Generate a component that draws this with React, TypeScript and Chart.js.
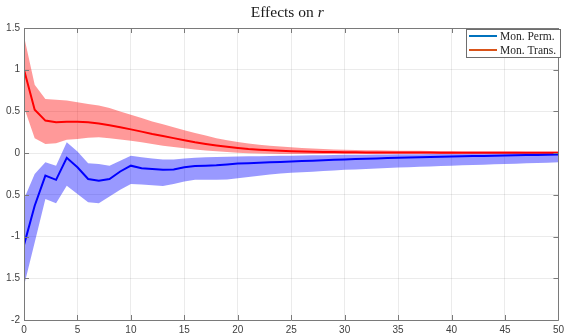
import React, { useEffect, useRef } from "react";
import { Chart, registerables } from "chart.js";

Chart.register(...registerables);

const horizons: number[] = Array.from({ length: 51 }, (_, i) => i);

const transMean = [1.0, 0.52, 0.39, 0.37, 0.375, 0.375, 0.37, 0.355, 0.335, 0.31, 0.285, 0.258, 0.23, 0.205, 0.18, 0.155, 0.13, 0.11, 0.092, 0.076, 0.062, 0.05, 0.041, 0.034, 0.028, 0.024, 0.02, 0.017, 0.015, 0.013, 0.011, 0.01, 0.009, 0.009, 0.008, 0.008, 0.007, 0.007, 0.007, 0.006, 0.006, 0.006, 0.006, 0.005, 0.005, 0.005, 0.005, 0.005, 0.005, 0.005, 0.005];
const transUpper = [1.4, 0.82, 0.65, 0.64, 0.63, 0.61, 0.59, 0.57, 0.54, 0.5, 0.46, 0.42, 0.38, 0.345, 0.31, 0.275, 0.24, 0.21, 0.18, 0.155, 0.135, 0.115, 0.1, 0.09, 0.08, 0.07, 0.062, 0.055, 0.05, 0.045, 0.042, 0.039, 0.036, 0.034, 0.032, 0.03, 0.029, 0.028, 0.027, 0.026, 0.025, 0.024, 0.024, 0.023, 0.023, 0.022, 0.022, 0.021, 0.021, 0.02, 0.02];
const transLower = [0.55, 0.18, 0.11, 0.12, 0.16, 0.17, 0.185, 0.19, 0.18, 0.165, 0.15, 0.13, 0.11, 0.09, 0.075, 0.06, 0.045, 0.033, 0.022, 0.013, 0.005, 0.0, -0.004, -0.007, -0.009, -0.01, -0.01, -0.01, -0.01, -0.01, -0.01, -0.01, -0.01, -0.01, -0.009, -0.009, -0.009, -0.009, -0.009, -0.009, -0.009, -0.008, -0.008, -0.008, -0.008, -0.008, -0.008, -0.008, -0.008, -0.008, -0.008];

const permMean = [-1.1, -0.63, -0.27, -0.32, -0.056, -0.17, -0.31, -0.33, -0.31, -0.22, -0.15, -0.18, -0.19, -0.2, -0.195, -0.17, -0.155, -0.15, -0.145, -0.135, -0.125, -0.12, -0.115, -0.11, -0.105, -0.1, -0.095, -0.09, -0.085, -0.08, -0.075, -0.071, -0.067, -0.063, -0.059, -0.055, -0.052, -0.049, -0.046, -0.043, -0.04, -0.038, -0.035, -0.033, -0.03, -0.028, -0.026, -0.023, -0.021, -0.018, -0.016];
const permUpper = [-0.55, -0.25, -0.11, -0.15, 0.13, 0.02, -0.12, -0.13, -0.15, -0.09, -0.03, -0.05, -0.065, -0.075, -0.075, -0.065, -0.055, -0.05, -0.047, -0.043, -0.04, -0.038, -0.036, -0.034, -0.032, -0.03, -0.028, -0.026, -0.024, -0.022, -0.02, -0.019, -0.018, -0.016, -0.015, -0.014, -0.013, -0.012, -0.011, -0.01, -0.01, -0.009, -0.008, -0.008, -0.007, -0.006, -0.005, -0.004, -0.003, -0.002, -0.001];
const permLower = [-1.59, -1.07, -0.55, -0.6, -0.39, -0.49, -0.59, -0.6, -0.52, -0.44, -0.37, -0.375, -0.385, -0.395, -0.37, -0.34, -0.32, -0.32, -0.32, -0.315, -0.3, -0.285, -0.27, -0.255, -0.245, -0.235, -0.228, -0.222, -0.215, -0.208, -0.2, -0.195, -0.19, -0.184, -0.178, -0.172, -0.168, -0.164, -0.16, -0.155, -0.15, -0.146, -0.142, -0.138, -0.134, -0.13, -0.126, -0.122, -0.118, -0.114, -0.11];

const yTickValues = [-2, -1.5, -1, -0.5, 0, 0.5, 1, 1.5];
const yTickLabels = ["-2", "1.5", "-1", "0.5", "0", "0.5", "1", "1.5"];
const xTickValues = [0, 5, 10, 15, 20, 25, 30, 35, 40, 45, 50];

const seriesNames = ["Mon. Perm.", "Mon. Trans."];
const legendColors = ["#0072BD", "#D95319"];
const titleText = "Effects on ";
const titleItalic = "r";

const pts = (ys: number[]) => ys.map((y, i) => ({ x: horizons[i], y }));

const framePlugin = {
  id: "frame",
  afterDatasetsDraw(chart: any) {
    const { ctx, chartArea } = chart;
    const { left, right, top, bottom } = chartArea;
    const xs = chart.scales.x;
    const ys = chart.scales.y;
    ctx.save();
    ctx.strokeStyle = "#7a7a7a";
    ctx.lineWidth = 1;
    ctx.beginPath();
    ctx.rect(Math.round(left) + 0.5, Math.round(top) + 0.5, Math.round(right - left), Math.round(bottom - top));
    ctx.stroke();
    const tl = 5;
    ctx.beginPath();
    xTickValues.forEach((v) => {
      const px = Math.round(xs.getPixelForValue(v)) + 0.5;
      ctx.moveTo(px, bottom);
      ctx.lineTo(px, bottom - tl);
      ctx.moveTo(px, top);
      ctx.lineTo(px, top + tl);
    });
    yTickValues.forEach((v) => {
      const py = Math.round(ys.getPixelForValue(v)) + 0.5;
      ctx.moveTo(left, py);
      ctx.lineTo(left + tl, py);
      ctx.moveTo(right, py);
      ctx.lineTo(right - tl, py);
    });
    ctx.stroke();
    ctx.restore();
  },
  afterDraw(chart: any) {
    const { ctx, chartArea } = chart;
    ctx.save();
    // title
    ctx.fillStyle = "#1a1a1a";
    ctx.textBaseline = "middle";
    const f1 = "15.5px 'Liberation Serif'";
    const f2 = "italic 15.5px 'Liberation Serif'";
    ctx.font = f1;
    const w1 = ctx.measureText(titleText).width;
    ctx.font = f2;
    const w2 = ctx.measureText(titleItalic).width;
    const cx = (chartArea.left + chartArea.right) / 2 - 4;
    const x0 = cx - (w1 + w2) / 2;
    ctx.font = f1;
    ctx.textAlign = "left";
    ctx.fillText(titleText, x0, 13);
    ctx.font = f2;
    ctx.fillText(titleItalic, x0 + w1, 13);

    // legend
    const bx = 466.5, by = 29.5, bw = 94, bh = 28;
    ctx.fillStyle = "#ffffff";
    ctx.fillRect(bx, by, bw, bh);
    ctx.strokeStyle = "#6e6e6e";
    ctx.lineWidth = 1;
    ctx.strokeRect(bx, by, bw, bh);
    const rows = [36, 50];
    ctx.font = "11.5px 'Liberation Serif'";
    ctx.textBaseline = "middle";
    seriesNames.forEach((name, i) => {
      ctx.strokeStyle = legendColors[i];
      ctx.lineWidth = 2;
      ctx.beginPath();
      ctx.moveTo(469, rows[i]);
      ctx.lineTo(497, rows[i]);
      ctx.stroke();
      ctx.fillStyle = "#262626";
      ctx.fillText(name, 500, rows[i] + 0.5);
    });
    ctx.restore();
  },
};

export default function App() {
  const ref = useRef<HTMLCanvasElement | null>(null);
  useEffect(() => {
    if (!ref.current) return;
    const chart = new Chart(ref.current, {
      type: "line",
      data: {
        datasets: [
          { data: pts(transUpper), borderWidth: 0, borderColor: "rgba(0,0,0,0)", backgroundColor: "rgba(255,0,0,0.4)", fill: "+1", pointRadius: 0 },
          { data: pts(transLower), borderWidth: 0, borderColor: "rgba(0,0,0,0)", backgroundColor: "rgba(0,0,0,0)", fill: false, pointRadius: 0 },
          { data: pts(permUpper), borderWidth: 0, borderColor: "rgba(0,0,0,0)", backgroundColor: "rgba(0,0,255,0.4)", fill: "+1", pointRadius: 0 },
          { data: pts(permLower), borderWidth: 0, borderColor: "rgba(0,0,0,0)", backgroundColor: "rgba(0,0,0,0)", fill: false, pointRadius: 0 },
          { label: seriesNames[1], data: pts(transMean), borderWidth: 2, borderColor: "#ff0000", fill: false, pointRadius: 0 },
          { label: seriesNames[0], data: pts(permMean), borderWidth: 2, borderColor: "#0000ff", fill: false, pointRadius: 0 },
        ],
      },
      options: {
        animation: false,
        responsive: false,
        maintainAspectRatio: false,
        layout: { padding: { top: 28, right: 7, left: 0, bottom: 0 } },
        plugins: { legend: { display: false }, title: { display: false }, tooltip: { enabled: false } },
        elements: { line: { tension: 0 } },
        scales: {
          x: {
            type: "linear",
            min: 0,
            max: 50,
            afterBuildTicks: (s: any) => { s.ticks = xTickValues.map((v) => ({ value: v })); },
            afterFit: (s: any) => { s.height = 15; },
            grid: { color: "rgba(0,0,0,0.08)", drawTicks: false },
            border: { display: false },
            ticks: { padding: 4, color: "#404040", font: { family: "'Liberation Sans'", size: 10 }, maxRotation: 0, autoSkip: false },
          },
          y: {
            type: "linear",
            min: -2,
            max: 1.5,
            afterBuildTicks: (s: any) => { s.ticks = yTickValues.map((v) => ({ value: v })); },
            afterFit: (s: any) => { s.width = 24; },
            grid: { color: "rgba(0,0,0,0.08)", drawTicks: false },
            border: { display: false },
            ticks: {
              padding: 4,
              color: "#404040",
              font: { family: "'Liberation Sans'", size: 10 },
              autoSkip: false,
              callback: (v: any) => {
                const idx = yTickValues.findIndex((t) => Math.abs(t - Number(v)) < 1e-9);
                return idx >= 0 ? yTickLabels[idx] : "";
              },
            },
          },
        },
      },
      plugins: [framePlugin],
    } as any);
    return () => chart.destroy();
  }, []);
  return (
    <div style={{ position: "fixed", left: 0, top: 0, width: 568, height: 335, background: "#fff" }}>
      <canvas ref={ref} width={568} height={335} style={{ width: 568, height: 335, display: "block" }} />
    </div>
  );
}
